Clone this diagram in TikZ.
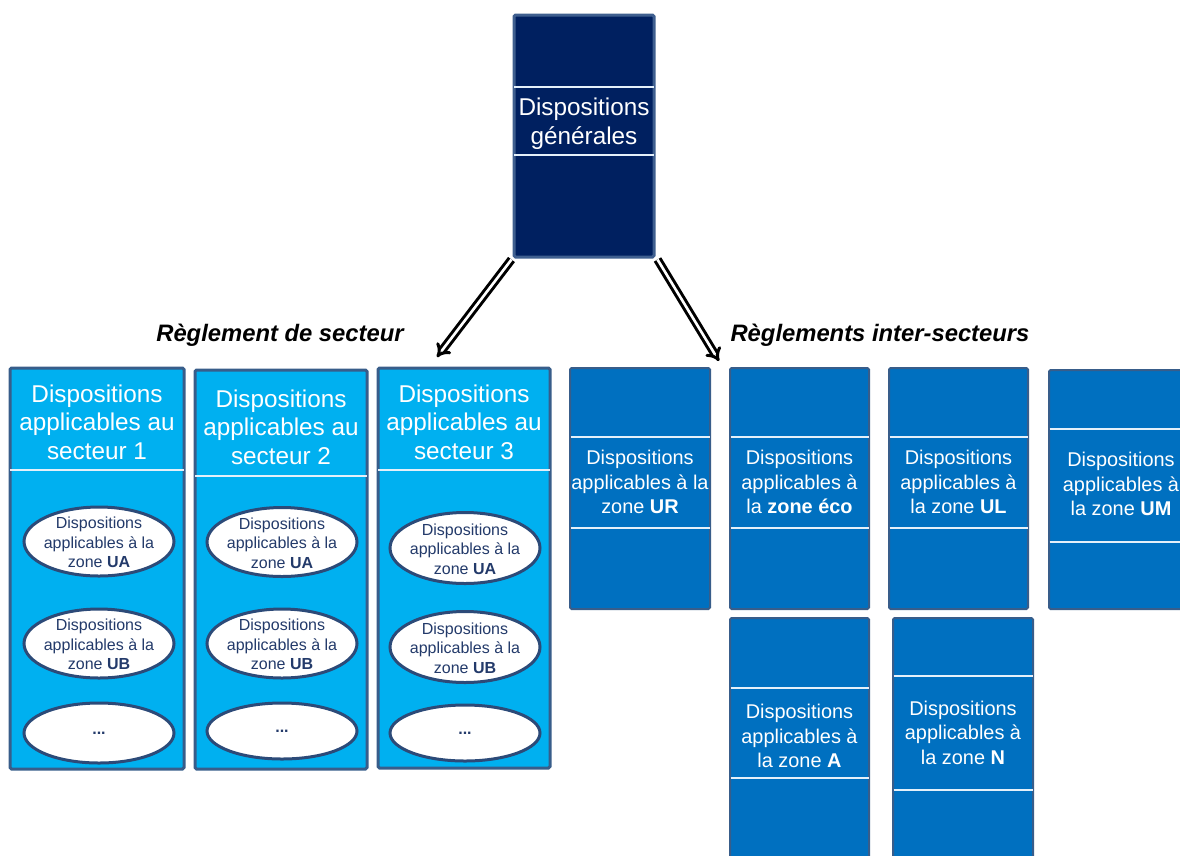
\documentclass[tikz,border=0pt]{standalone}
\usepackage{fontspec}
\setmainfont{Liberation Sans}
\usetikzlibrary{shapes.geometric,arrows.meta}
\definecolor{navy}{HTML}{002060}
\definecolor{navyborder}{HTML}{3F5F8F}
\definecolor{secfill}{HTML}{00B0F0}
\definecolor{zonefill}{HTML}{0070C0}
\definecolor{boxborder}{HTML}{385D8A}
\definecolor{bandline}{HTML}{E4F0FA}
\definecolor{ellborder}{HTML}{2C4A78}
\definecolor{elltext}{HTML}{233A6A}
\tikzset{
  genbox/.style={rectangle, fill=navy, draw=navyborder, line width=3pt, rounded corners=1.5pt, inner sep=0pt},
  secbox/.style={rectangle, fill=secfill, draw=boxborder, line width=3pt, rounded corners=1.5pt, inner sep=0pt},
  zonebox/.style={rectangle, fill=zonefill, draw=boxborder, line width=2pt, rounded corners=1.5pt, inner sep=0pt},
  band/.style={draw=bandline, line width=1.6pt, shorten <=1.5pt, shorten >=1.5pt},
  ellbox/.style={ellipse, fill=white, draw=ellborder, line width=3pt, inner sep=0pt, minimum width=150pt},
  hdrtext/.style={text=white, align=center, font=\fontsize{24.3}{28.5}\selectfont, inner sep=0pt},
  zonetext/.style={text=white, align=center, font=\fontsize{19.9}{24.5}\selectfont, inner sep=0pt},
  elltext/.style={text=elltext, align=center, font=\fontsize{16}{19.5}\selectfont, inner sep=0pt},
  titletext/.style={text=black, font=\fontsize{23.8}{28}\selectfont\bfseries\itshape, inner sep=0pt},
  dblarrow/.style={draw=black, line width=3pt, double=white, double distance=2.6pt, -{Implies[scale=1.1]}},
}
\begin{document}
\begin{tikzpicture}[x=1pt,y=-1pt]
\useasboundingbox (0,0) rectangle (1180,855);
\clip (0,0) rectangle (1180,855);

% top box
\node[genbox, minimum width=140pt, minimum height=242pt] (gen) at (584,136) {};
\draw[band] (gen.west |- 0,87) -- (gen.east |- 0,87);
\draw[band] (gen.west |- 0,155) -- (gen.east |- 0,155);
\node[hdrtext] (gent) at (584,123.5) {Dispositions\\générales};

% arrows
\coordinate (la) at (437,357);
\coordinate (ra) at (719,361);
\draw[dblarrow] ([xshift=-1pt,yshift=-1pt]gen.south west) -- (la);
\draw[dblarrow] ([xshift=2pt,yshift=-1pt]gen.south east) -- (ra);

% titles
\node[titletext] (t1) at (280,335) {Règlement de secteur};
\node[titletext] (t2) at (880,335) {Règlements inter-secteurs};

% sector boxes
\node[secbox, minimum width=174pt, minimum height=401pt] (s1) at (97,568.5) {};
\draw[band] (s1.west |- 0,470) -- (s1.east |- 0,470);
\node[hdrtext] (s1t) at (97,422) {Dispositions\\applicables au\\secteur 1};

\node[secbox, minimum width=172pt, minimum height=399pt] (s2) at (281,569.5) {};
\draw[band] (s2.west |- 0,476) -- (s2.east |- 0,476);
\node[hdrtext] (s2t) at (281,427) {Dispositions\\applicables au\\secteur 2};

\node[secbox, minimum width=172pt, minimum height=400pt] (s3) at (464,568) {};
\draw[band] (s3.west |- 0,470) -- (s3.east |- 0,470);
\node[hdrtext] (s3t) at (464,422) {Dispositions\\applicables au\\secteur 3};

% ellipses sector 1
\node[ellbox, minimum height=69pt] (s1a) at (99,541.5) {};
\node[elltext] at ([yshift=-1pt]s1a) {Dispositions\\applicables à la\\zone \textbf{UA}};
\node[ellbox, minimum height=69pt] (s1b) at (99,643.5) {};
\node[elltext] at ([yshift=-1pt]s1b) {Dispositions\\applicables à la\\zone \textbf{UB}};
\node[ellbox, minimum height=60pt] (s1c) at (99,733) {};
\node[elltext] at (s1c) {\textbf{...}};

% ellipses sector 2
\node[ellbox, minimum height=69pt] (s2a) at (282,542) {};
\node[elltext] at ([yshift=-1pt]s2a) {Dispositions\\applicables à la\\zone \textbf{UA}};
\node[ellbox, minimum height=69pt] (s2b) at (282,643.5) {};
\node[elltext] at ([yshift=-1pt]s2b) {Dispositions\\applicables à la\\zone \textbf{UB}};
\node[ellbox, minimum height=56pt] (s2c) at (282,731) {};
\node[elltext] at (s2c) {\textbf{...}};

% ellipses sector 3
\node[ellbox, minimum height=71pt] (s3a) at (465,548) {};
\node[elltext] at ([yshift=-1pt]s3a) {Dispositions\\applicables à la\\zone \textbf{UA}};
\node[ellbox, minimum height=71pt] (s3b) at (465,647) {};
\node[elltext] at ([yshift=-1pt]s3b) {Dispositions\\applicables à la\\zone \textbf{UB}};
\node[ellbox, minimum height=56pt] (s3c) at (465,733) {};
\node[elltext] at (s3c) {\textbf{...}};

% inter-sector boxes
\node[zonebox, minimum width=140pt, minimum height=241pt] (ur) at (640,488.5) {};
\draw[band] (ur.west |- 0,437) -- (ur.east |- 0,437);
\draw[band] (ur.west |- 0,528) -- (ur.east |- 0,528);
\node[zonetext] (urt) at (640,482) {Dispositions\\applicables à la\\zone \textbf{UR}};

\node[zonebox, minimum width=139pt, minimum height=241pt] (eco) at (799.5,488.5) {};
\draw[band] (eco.west |- 0,437) -- (eco.east |- 0,437);
\draw[band] (eco.west |- 0,528) -- (eco.east |- 0,528);
\node[zonetext] (ecot) at (799.5,482) {Dispositions\\applicables à\\la \textbf{zone éco}};

\node[zonebox, minimum width=139pt, minimum height=241pt] (ul) at (958.5,488.5) {};
\draw[band] (ul.west |- 0,437) -- (ul.east |- 0,437);
\draw[band] (ul.west |- 0,528) -- (ul.east |- 0,528);
\node[zonetext] (ult) at (958.5,482) {Dispositions\\applicables à\\la zone \textbf{UL}};

\node[zonebox, minimum width=140pt, minimum height=239pt] (um) at (1119,489.5) {};
\draw[band] (um.west |- 0,429) -- (um.east |- 0,429);
\draw[band] (um.west |- 0,542) -- (um.east |- 0,542);
\node[zonetext] (umt) at (1121,484) {Dispositions\\applicables à\\la zone \textbf{UM}};

\node[zonebox, minimum width=139pt, minimum height=252pt] (za) at (799.5,744) {};
\draw[band] (za.west |- 0,688) -- (za.east |- 0,688);
\draw[band] (za.west |- 0,778) -- (za.east |- 0,778);
\node[zonetext] (zat) at (799.5,736) {Dispositions\\applicables à\\la zone \textbf{A}};

\node[zonebox, minimum width=140pt, minimum height=252pt] (zn) at (963,744) {};
\draw[band] (zn.west |- 0,676) -- (zn.east |- 0,676);
\draw[band] (zn.west |- 0,790) -- (zn.east |- 0,790);
\node[zonetext] (znt) at (963,732.5) {Dispositions\\applicables à\\la zone \textbf{N}};
\end{tikzpicture}
\end{document}
